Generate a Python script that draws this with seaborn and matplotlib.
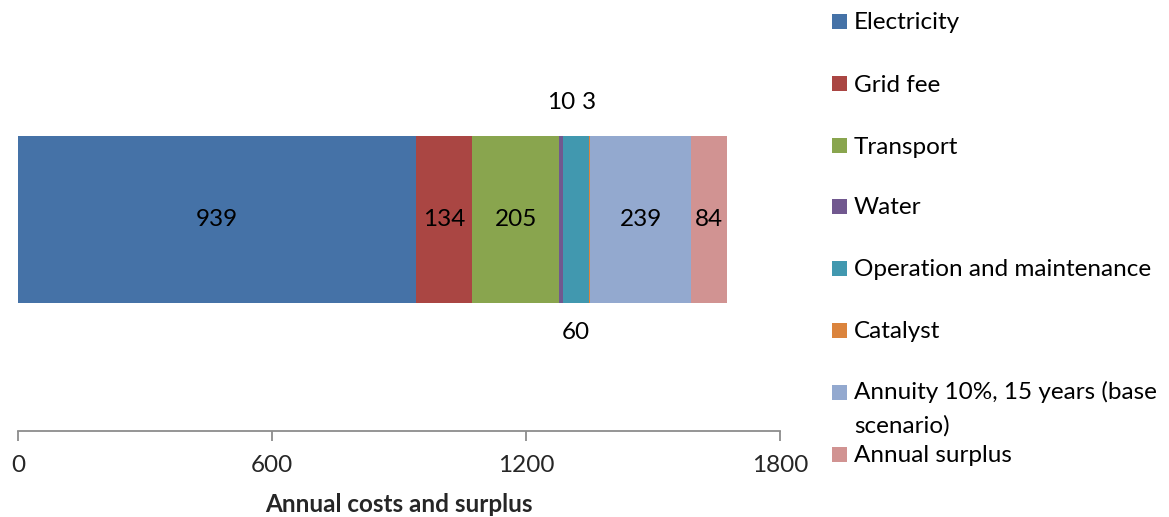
import matplotlib
matplotlib.use("Agg")
import matplotlib.pyplot as plt
from matplotlib.patches import Rectangle
import numpy as np
import pandas as pd
import seaborn as sns

# Annual cost components and surplus
categories = [
    "Electricity",
    "Grid fee",
    "Transport",
    "Water",
    "Operation and maintenance",
    "Catalyst",
    "Annuity 10%, 15 years (base\nscenario)",
    "Annual surplus",
]
values = [939, 134, 205, 10, 60, 3, 239, 84]
colors = ["#4572A7", "#AA4643", "#89A54E", "#71588F",
          "#4198AF", "#DB843D", "#93A9CF", "#D19392"]
# where each value label sits: inside the segment, above or below the bar
label_pos = ["in", "in", "in", "above", "below", "above", "in", "in"]
xticks = [0, 600, 1200, 1800]
xlabel = "Annual costs and surplus"

sns.set_theme(style="white")
plt.rcParams["font.family"] = ["Lato", "DejaVu Sans"]
FS = 17.5

W, H = 1169, 517
fig = plt.figure(figsize=(W / 100, H / 100), dpi=100)
ax = fig.add_axes([18 / W, (H - 431) / H, (780 - 18) / W, (431 - 8) / H])

ends = np.cumsum(values)
starts = ends - np.array(values)
df = pd.DataFrame({"row": ["costs"] * len(values), "end": ends,
                   "category": categories})

# stacked bar: draw cumulative totals from the longest to the shortest
bar_w = 0.395
for i in range(len(values) - 1, -1, -1):
    sns.barplot(data=df.iloc[[i]], x="end", y="row", orient="h",
                color=colors[i], saturation=1, width=bar_w, ax=ax,
                edgecolor="none", linewidth=0)

ax.set_ylim(0.5, -0.5)
ax.set_xlim(0, 1800)

for s, v, pos in zip(starts, values, label_pos):
    cx = s + v / 2
    if pos == "in":
        ax.text(cx, 0, f"{v}", ha="center", va="center", fontsize=FS, color="black")
    elif pos == "above":
        ax.text(cx, -bar_w / 2 - 0.08, f"{v}", ha="center", va="center",
                fontsize=FS, color="black")
    else:
        ax.text(cx, bar_w / 2 + 0.07, f"{v}", ha="center", va="center",
                fontsize=FS, color="black")

# axis styling: only the bottom axis line with outward ticks
for side in ["top", "right", "left"]:
    ax.spines[side].set_visible(False)
ax.spines["bottom"].set_color("#8C8C8C")
ax.spines["bottom"].set_linewidth(1.3)
ax.set_xticks(xticks)
ax.set_xticklabels([str(t) for t in xticks], fontsize=FS)
ax.tick_params(axis="x", direction="out", length=7, width=1.3,
               color="#8C8C8C", pad=10.5, bottom=True)
ax.set_yticks([])
ax.set_ylabel("")
ax.set_xlabel(xlabel, fontsize=FS, fontweight="bold", labelpad=12)

# legend on the right: square aligned with the first line of each label
leg_y = [21, 83.5, 145.5, 206.5, 268.5, 330.5, 392, 454.5]
sq = 15
line_step = 33
for c, lab, yc in zip(colors, categories, leg_y):
    fig.add_artist(Rectangle((832 / W, (H - yc - sq / 2) / H), sq / W, sq / H,
                             transform=fig.transFigure, facecolor=c,
                             edgecolor="none"))
    extra = lab.count("\n") * line_step
    fig.text(854 / W, (H - yc - 8 - extra) / H, lab, ha="left", va="baseline",
             fontsize=FS, color="black", linespacing=1.7)

fig.savefig("out.png", dpi=100)
